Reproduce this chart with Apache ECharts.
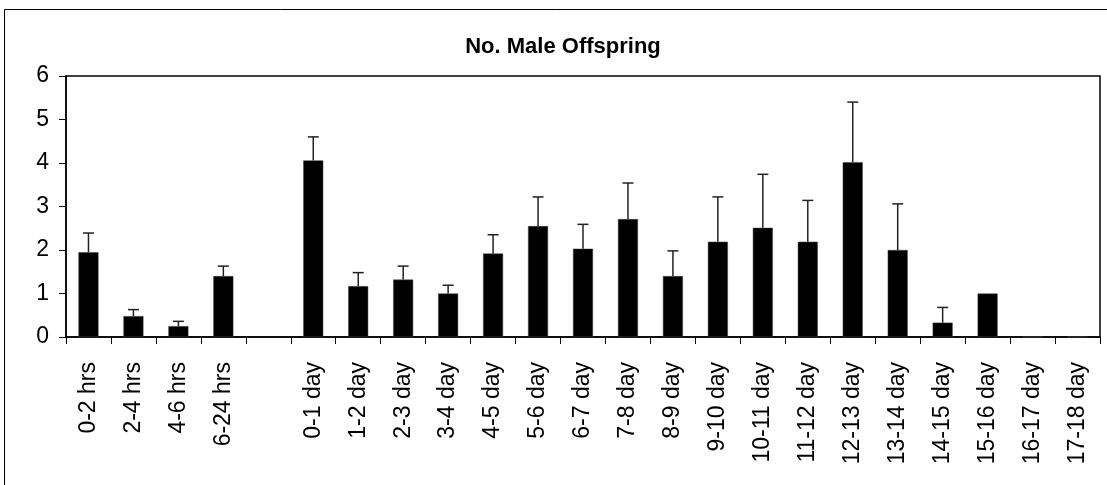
<!DOCTYPE html>
<html>
<head>
<meta charset="utf-8">
<script src="https://cdn.jsdelivr.net/npm/echarts@6/dist/echarts.min.js"></script>
<style>
  html, body { margin: 0; padding: 0; background: #fff; }
  #main { width: 1107px; height: 485px; }
</style>
</head>
<body>
<div id="main"></div>
<script>
// categories (blank slot between hours and days)
var categories = ['0-2 hrs', '2-4 hrs', '4-6 hrs', '6-24 hrs', '',
    '0-1 day', '1-2 day', '2-3 day', '3-4 day', '4-5 day', '5-6 day', '6-7 day',
    '7-8 day', '8-9 day', '9-10 day', '10-11 day', '11-12 day', '12-13 day',
    '13-14 day', '14-15 day', '15-16 day', '16-17 day', '17-18 day'];

// mean no. of male offspring
var means = [1.95, 0.48, 0.25, 1.40, null,
    4.06, 1.17, 1.32, 1.00, 1.92, 2.55, 2.03,
    2.71, 1.40, 2.19, 2.51, 2.19, 4.02,
    2.00, 0.33, 1.00, 0, 0];

// upper error bar length
var errors = [0.44, 0.15, 0.11, 0.23, null,
    0.54, 0.31, 0.31, 0.19, 0.43, 0.67, 0.56,
    0.83, 0.58, 1.03, 1.23, 0.95, 1.38,
    1.06, 0.35, 0, 0, 0];

var yTicks = [0, 1, 2, 3, 4, 5, 6];

var chart = echarts.init(document.getElementById('main'));

var errData = [];
for (var i = 0; i < categories.length; i++) {
    if (means[i] != null && errors[i]) {
        errData.push([i, means[i], means[i] + errors[i]]);
    }
}

var FONT = 'Liberation Sans, Arial, sans-serif';

var option = {
    animation: false,
    backgroundColor: '#fff',
    title: {
        text: 'No. Male Offspring',
        left: 558,
        top: 31,
        textAlign: 'center',
        textStyle: { fontFamily: FONT, fontSize: 22, fontWeight: 'bold', color: '#000' }
    },
    graphic: [{
        type: 'rect',
        shape: { x: 4.5, y: 9.5, width: 1200, height: 600 },
        style: { fill: null, stroke: '#000', lineWidth: 1 },
        silent: true
    }],
    grid: {
        left: 66, right: 7, top: 76, bottom: 148,
        show: true, borderColor: '#000', borderWidth: 1.5,
        backgroundColor: 'transparent'
    },
    xAxis: {
        type: 'category',
        data: categories,
        axisLine: { lineStyle: { color: '#000', width: 1.5 } },
        axisTick: { show: true, length: 7, lineStyle: { color: '#000' } },
        axisLabel: {
            rotate: 90, margin: 25, interval: 0,
            color: '#000', fontFamily: FONT, fontSize: 23
        },
        splitLine: { show: false }
    },
    yAxis: {
        type: 'value',
        min: yTicks[0], max: yTicks[yTicks.length - 1], interval: 1,
        axisLine: { show: true, lineStyle: { color: '#000', width: 1.5 } },
        axisTick: { show: true, length: 7, lineStyle: { color: '#000' } },
        axisLabel: { margin: 17, color: '#000', fontFamily: FONT, fontSize: 23 },
        splitLine: { show: false }
    },
    series: [
        {
            name: 'mean',
            type: 'bar',
            data: means,
            barWidth: 20,
            itemStyle: { color: '#000', borderColor: '#444', borderWidth: 0.5 }
        },
        {
            name: 'error',
            type: 'custom',
            data: errData,
            z: 3,
            renderItem: function (params, api) {
                var lo = api.coord([api.value(0), api.value(1)]);
                var hi = api.coord([api.value(0), api.value(2)]);
                var half = 5.5;
                var style = { stroke: '#222', lineWidth: 1.5 };
                return {
                    type: 'group',
                    children: [
                        { type: 'line', shape: { x1: lo[0], y1: lo[1], x2: hi[0], y2: hi[1] }, style: style },
                        { type: 'line', shape: { x1: hi[0] - half, y1: hi[1], x2: hi[0] + half, y2: hi[1] }, style: style }
                    ]
                };
            }
        }
    ]
};

chart.setOption(option);
</script>
</body>
</html>
